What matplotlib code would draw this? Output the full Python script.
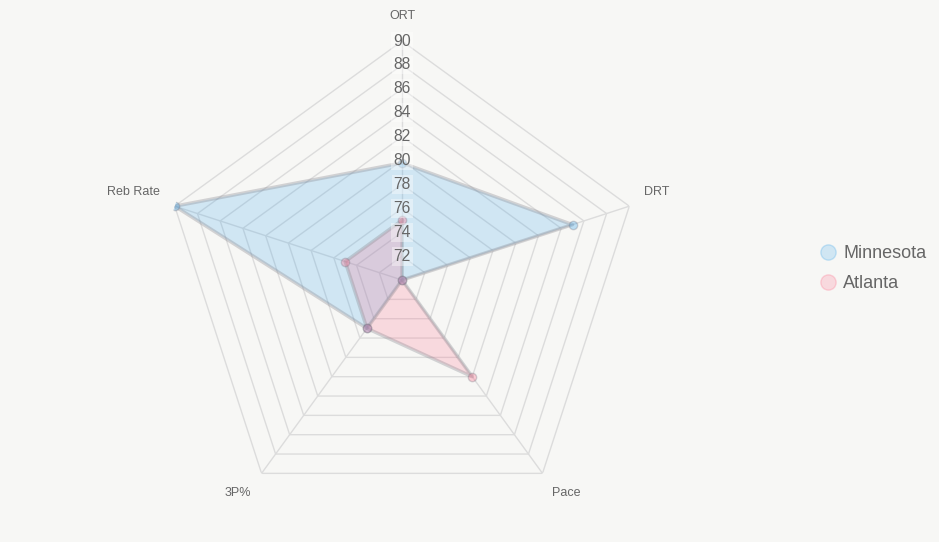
import numpy as np
import matplotlib.pyplot as plt

plt.rcParams['font.family'] = ['Liberation Sans', 'DejaVu Sans']

# данные
categories = ['ORT', 'DRT', 'Pace', '3P%', 'Reb Rate']
minnesota = [79.8, 85, 70, 75, 90]
atlanta = [75, 70, 80, 75, 75]
ticks = [72, 74, 76, 78, 80, 82, 84, 86, 88, 90]
r_min, r_max = 70, 90

bg = '#f7f7f5'
grid_c = '#dcdcdc'
txt_c = '#666666'

n = len(categories)
angles = np.linspace(0, 2 * np.pi, n, endpoint=False)
ang_closed = np.append(angles, angles[0])

fig = plt.figure(figsize=(9.39, 5.42), dpi=100)
fig.patch.set_facecolor(bg)
ax = fig.add_axes([0.1736, 0.0424, 0.5091, 0.8819], projection='polar')
ax.set_facecolor('none')
ax.set_theta_zero_location('N')
ax.set_theta_direction(-1)
ax.set_ylim(r_min, r_max)
ax.grid(False)
ax.spines['polar'].set_visible(False)
ax.set_xticks([])
ax.set_yticks([])

# пятиугольная сетка
for lvl in ticks:
    ax.plot(ang_closed, [lvl] * (n + 1), color=grid_c, lw=1, zorder=1)
for a in angles:
    ax.plot([a, a], [r_min, r_max], color=grid_c, lw=1, zorder=1)

# серии
series = [
    ('Minnesota', minnesota, (54/255, 162/255, 235/255)),
    ('Atlanta', atlanta, (255/255, 99/255, 132/255)),
]
for name, vals, col in series:
    v = vals + vals[:1]
    ax.fill(ang_closed, v, color=col, alpha=0.2, lw=0, zorder=2)
    ax.plot(ang_closed, v, color=(0.55, 0.55, 0.58, 0.35), lw=2.5, zorder=3)
    ax.plot(angles, vals, 'o', ms=6, mfc=col + (0.3,), mec=(0.45, 0.45, 0.5, 0.3),
            mew=1, zorder=4)

# подписи шкалы
for lvl in ticks:
    ax.text(0, lvl, str(lvl), ha='center', va='center', fontsize=11.3, color=txt_c,
            zorder=5, bbox=dict(boxstyle='square,pad=0.12', fc=(1, 1, 1, 0.4), ec='none'))

# подписи осей
offsets = [(0, 25, 'center'), (15, 14, 'left'), (9, -20, 'left'),
           (-10, -20, 'right'), (-15, 14, 'right')]
for a, lab, (dx, dy, ha) in zip(angles, categories, offsets):
    ax.annotate(lab, xy=(a, r_max), xytext=(dx, dy), textcoords='offset pixels',
                ha=ha, va='center', fontsize=9, color=txt_c)

# легенда
handles = [plt.Line2D([], [], ls='none', marker='o', ms=11, mfc=col + (0.2,),
                      mec=col + (0.25,), mew=1) for _, _, col in series]
fig.legend(handles, [s[0] for s in series], loc='center left',
           bbox_to_anchor=(0.853, 0.504), frameon=False, fontsize=13,
           labelcolor=txt_c, handletextpad=0.25, labelspacing=0.72, handlelength=1.2)

fig.savefig('out.png', dpi=100, facecolor=bg)
